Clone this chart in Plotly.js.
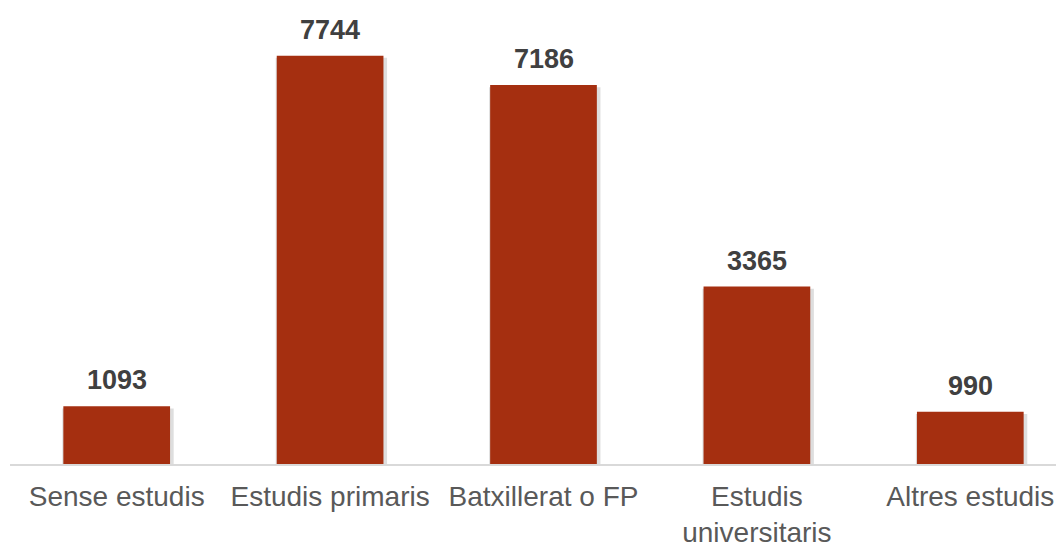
<!DOCTYPE html>
<html>
<head>
<meta charset="utf-8">
<script src="https://cdn.plot.ly/plotly-3.0.1.min.js"></script>
<style>
html, body { margin: 0; padding: 0; overflow: hidden; background: #fff; }
#chart { width: 1080px; height: 547px; }
</style>
</head>
<body>
<div id="chart"></div>
<script>
var categories = ["Sense estudis", "Estudis primaris", "Batxillerat o FP", "Estudis<br>universitaris", "Altres estudis"];
var values = [1093, 7744, 7186, 3365, 990];
var valueLabels = ["1093", "7744", "7186", "3365", "990"];

var barColor = "#A52F10";

var shadow = {
  type: "bar",
  x: categories,
  y: values,
  width: 0.522,
  offset: -0.255,
  base: -40,
  marker: { color: "rgba(0,0,0,0.13)" },
  hoverinfo: "none"
};

var trace = {
  type: "bar",
  x: categories,
  y: values,
  width: 0.5,
  marker: { color: barColor },
  hoverinfo: "none"
};

var annotations = categories.map(function (c, i) {
  return {
    x: c, y: values[i], xref: "x", yref: "y",
    text: "<b>" + valueLabels[i] + "</b>",
    showarrow: false, yanchor: "bottom", yshift: 9,
    font: { family: "Liberation Sans, Arial, sans-serif", size: 27, color: "#404040" }
  };
});

var layout = {
  width: 1080, height: 547,
  margin: { l: 10, r: 3, t: 0, b: 83 },
  paper_bgcolor: "#ffffff", plot_bgcolor: "#ffffff",
  barmode: "overlay",
  showlegend: false,
  font: { family: "Liberation Sans, Arial, sans-serif" },
  xaxis: {
    type: "category",
    showline: true, linecolor: "#D9D9D9", linewidth: 2,
    ticks: "", showgrid: false, zeroline: false,
    tickfont: { size: 28, color: "#595959" },
    ticklabelstandoff: 6,
    automargin: false
  },
  yaxis: {
    range: [0, 8800], visible: false, showgrid: false, zeroline: false, fixedrange: true
  },
  annotations: annotations
};

Plotly.newPlot("chart", [shadow, trace], layout, { staticPlot: true, displayModeBar: false });
</script>
</body>
</html>
